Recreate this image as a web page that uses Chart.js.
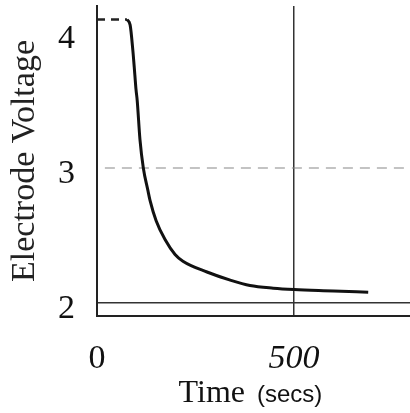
<!DOCTYPE html>
<html lang="en">
<head>
<meta charset="UTF-8">
<title>Electrode Voltage</title>
<script src="https://cdn.jsdelivr.net/npm/chart.js"></script>
<style>
  body { margin: 0; background: #fff; }
</style>
</head>
<body>
<canvas id="voltChart" width="410" height="413"></canvas>
<script>
    // trace (time in secs, voltage)
    const timeSecs = [76, 84, 91, 96, 99, 102, 109, 117.5, 128.7, 134.5, 150, 172.6, 198, 218, 279, 338, 388, 447, 500, 600, 688];
    const voltage  = [4.10, 4.06, 3.87, 3.69, 3.58, 3.50, 3.21, 3.00, 2.84, 2.76, 2.61, 2.47, 2.36, 2.31, 2.23, 2.17, 2.13, 2.11, 2.10, 2.09, 2.08];

    // dashed plateau at the start
    const plateauTime = [0, 76];
    const plateauVoltage = [4.10, 4.10];

    // faint dashed reference at 3 V
    const refTime = [20, 794];
    const refVoltage = [3, 3];

    const xTicks = [0, 500];
    const yTicks = [2, 3, 4];

    const toPoints = (xs, ys) => xs.map((x, i) => ({ x: x, y: ys[i] }));

    // x axis title: serif word + sans unit, like the scan
    const timeTitle = {
        id: 'timeTitle',
        afterDraw(chart) {
            const c = chart.ctx;
            const area = chart.chartArea;
            c.save();
            c.fillStyle = '#111';
            c.textBaseline = 'alphabetic';
            c.font = '32px "Liberation Serif"';
            c.textAlign = 'right';
            c.fillText('Time', area.left + 148, chart.height - 11);
            c.font = '24px "Liberation Sans"';
            c.textAlign = 'left';
            c.fillText('(secs)', area.left + 160, chart.height - 11);
            c.restore();
        }
    };

    // keep tick label room from pushing the plot area in
    const noEdgePadding = (scale) => {
        scale.paddingTop = 0;
        scale.paddingBottom = 0;
        scale.paddingLeft = 0;
        scale.paddingRight = 0;
    };

    const ctx = document.getElementById('voltChart').getContext('2d');
    const voltChart = new Chart(ctx, {
        type: 'line',
        data: {
            datasets: [
                {
                    data: toPoints(timeSecs, voltage),
                    borderColor: '#111',
                    borderWidth: 3,
                    pointRadius: 0,
                    fill: false,
                    cubicInterpolationMode: 'monotone'
                },
                {
                    data: toPoints(plateauTime, plateauVoltage),
                    borderColor: '#222',
                    borderWidth: 2.5,
                    borderDash: [8, 6],
                    pointRadius: 0,
                    fill: false
                },
                {
                    data: toPoints(refTime, refVoltage),
                    borderColor: '#888',
                    borderWidth: 1.2,
                    borderDash: [10, 7],
                    pointRadius: 0,
                    fill: false
                }
            ]
        },
        options: {
            responsive: false,
            animation: false,
            layout: {
                autoPadding: false,
                padding: { top: 6, left: 0, right: 0, bottom: 0 }
            },
            plugins: {
                legend: { display: false },
                tooltip: { enabled: false }
            },
            scales: {
                x: {
                    type: 'linear',
                    min: 0,
                    max: 794,
                    afterBuildTicks: (scale) => {
                        scale.ticks = xTicks.map(v => ({ value: v }));
                    },
                    afterFit: (scale) => { scale.height = 97; noEdgePadding(scale); },
                    grid: {
                        drawTicks: false,
                        lineWidth: 1.5,
                        color: (c) => (c.tick && c.tick.value === 500) ? '#333' : 'rgba(0,0,0,0)'
                    },
                    border: { display: true, color: '#222', width: 2 },
                    ticks: {
                        padding: 23,
                        color: '#111',
                        font: (c) => ({
                            family: '"Liberation Serif"',
                            size: 34,
                            style: (c.tick && c.tick.value === 500) ? 'italic' : 'normal'
                        })
                    }
                },
                y: {
                    type: 'linear',
                    min: 1.904,
                    max: 4.2,
                    afterBuildTicks: (scale) => {
                        scale.ticks = yTicks.map(v => ({ value: v }));
                    },
                    afterFit: (scale) => { scale.width = 97; noEdgePadding(scale); },
                    grid: {
                        drawTicks: false,
                        lineWidth: 1.5,
                        color: (c) => (c.tick && c.tick.value === 2) ? '#333' : 'rgba(0,0,0,0)'
                    },
                    border: { display: true, color: '#222', width: 2 },
                    ticks: {
                        padding: 22,
                        labelOffset: 6,
                        color: '#111',
                        font: { family: '"Liberation Serif"', size: 34 }
                    },
                    title: {
                        display: true,
                        text: 'Electrode Voltage',
                        color: '#222',
                        padding: { top: 5, bottom: 0 },
                        font: { family: '"Liberation Serif"', size: 34 }
                    }
                }
            }
        },
        plugins: [timeTitle]
    });
</script>
</body>
</html>
